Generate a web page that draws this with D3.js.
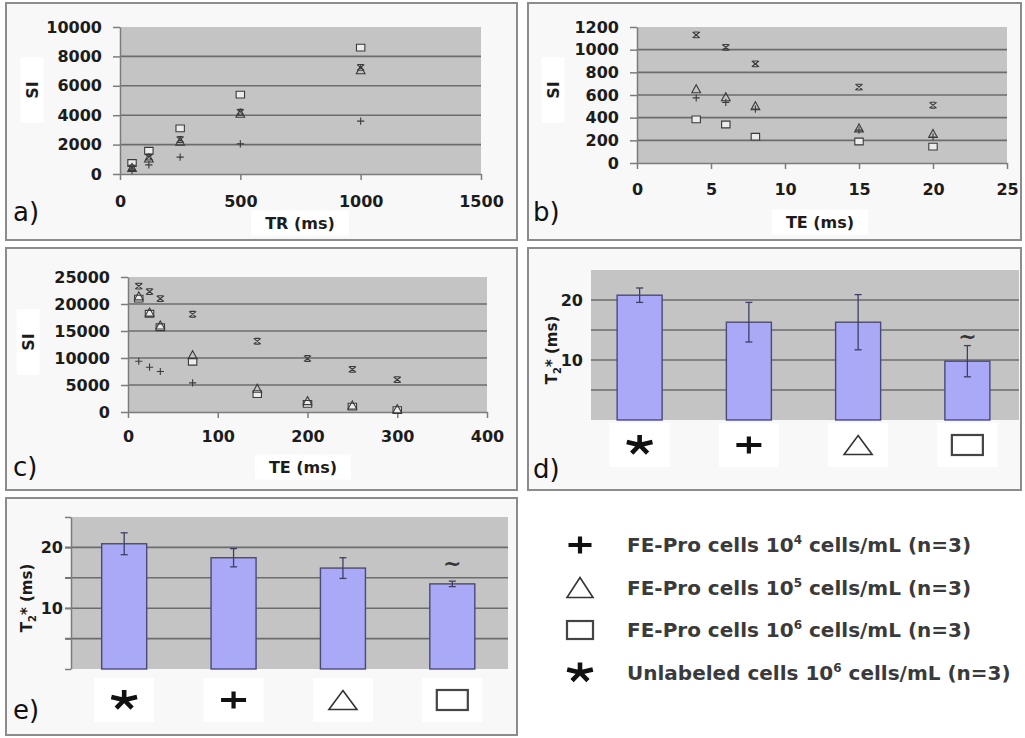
<!DOCTYPE html>
<html>
<head>
<meta charset="utf-8">
<script src="https://cdn.jsdelivr.net/npm/d3@7"></script>
<style>
  html, body { margin: 0; padding: 0; background: #fff; }
  svg text { font-family: "DejaVu Sans", sans-serif; }
</style>
</head>
<body>
<svg id="fig" width="1025" height="738"></svg>
<script>
// a) signal intensity vs TR
const trValues = [50, 120, 250, 500, 1000];
const trStar = [420, 1150, 2350, 4200, 7250];
const trPlus = [250, 620, 1150, 2050, 3600];
const trTriangle = [400, 1050, 2200, 4100, 7050];
const trSquare = [750, 1580, 3100, 5400, 8600];
const trTicksX = [0, 500, 1000, 1500];
const trTicksY = [0, 2000, 4000, 6000, 8000, 10000];

// b) signal intensity vs short TE
const teShort = [4, 6, 8, 15, 20];
const teShortStar = [1130, 1020, 875, 670, 510];
const teShortPlus = [575, 535, 475, 290, 230];
const teShortTriangle = [650, 580, 500, 305, 255];
const teShortSquare = [385, 340, 232, 190, 145];
const teShortTicksX = [0, 5, 10, 15, 20, 25];
const teShortTicksY = [0, 200, 400, 600, 800, 1000, 1200];

// c) signal intensity vs long TE
const teLong = [12, 24, 36, 72, 144, 200, 250, 300];
const teLongStar = [23300, 22300, 21000, 18100, 13100, 9900, 7900, 6000];
const teLongPlus = [9400, 8300, 7500, 5400];
const teLongTriangle = [21400, 18400, 16000, 10500, 4300, 2000, 1200, 500];
const teLongSquare = [21000, 18200, 15700, 9300, 3300, 1500, 1000, 350];
const teLongTicksX = [0, 100, 200, 300, 400];
const teLongTicksY = [0, 5000, 10000, 15000, 20000, 25000];

// d) and e) T2* per group
const groups = ["star", "plus", "triangle", "square"];
const t2Mean_d = [20.8, 16.3, 16.3, 9.8];
const t2Err_d = [1.2, 3.3, 4.6, 2.6];
const t2Mean_e = [20.6, 18.3, 16.6, 14.0];
const t2Err_e = [1.8, 1.5, 1.7, 0.45];
const t2Marked = ["square"];
const t2TicksY = [0, 5, 10, 15, 20, 25];
const t2Labels = [10, 20];

// legend
const legendKinds = ["plus", "triangle", "square", "star"];
const legendNames = ["FE-Pro cells", "FE-Pro cells", "FE-Pro cells", "Unlabeled cells"];
const legendExp = ["4", "5", "6", "6"];

const plotFill = "#c4c4c4";
const gridColor = "#6c6c6c";
const axisColor = "#7c7c7c";
const markColor = "#3a3a3a";
const textColor = "#1c1c1c";

const svg = d3.select("#fig");
svg.append("rect").attr("width", 1025).attr("height", 738).attr("fill", "#fff");

// panel frames
const frames = [
  { x0: 6, y0: 3, x1: 517, y1: 240, tag: "a)", tx: 13, ty: 221 },
  { x0: 528, y0: 3, x1: 1021, y1: 240, tag: "b)", tx: 533, ty: 221 },
  { x0: 6, y0: 248, x1: 517, y1: 490, tag: "c)", tx: 13, ty: 476 },
  { x0: 528, y0: 248, x1: 1021, y1: 490, tag: "d)", tx: 533, ty: 478 },
  { x0: 6, y0: 498, x1: 517, y1: 735, tag: "e)", tx: 13, ty: 719 }
];
frames.forEach(f => {
  svg.append("rect")
    .attr("x", f.x0).attr("y", f.y0)
    .attr("width", f.x1 - f.x0).attr("height", f.y1 - f.y0)
    .attr("fill", "#f8f8f8").attr("stroke", "#8c8c8c").attr("stroke-width", 2);
});

// white box behind a label (pads are in the text's own direction)
function labelBg(textSel, padAlong, padAcross) {
  const b = textSel.node().getBBox();
  const rect = document.createElementNS("http://www.w3.org/2000/svg", "rect");
  textSel.node().parentNode.insertBefore(rect, textSel.node());
  d3.select(rect)
    .attr("x", b.x - padAlong).attr("y", b.y - padAcross)
    .attr("width", b.width + 2 * padAlong).attr("height", b.height + 2 * padAcross)
    .attr("transform", textSel.attr("transform")).attr("fill", "#fff");
}

// small scatter markers
function markerPath(kind, s) {
  if (kind === "plus") return `M${-s},0H${s}M0,${-s}V${s}`;
  if (kind === "triangle") return `M0,${-s}L${s * 0.95},${s * 0.75}H${-s * 0.95}Z`;
  if (kind === "square") return `M${-s},${-s * 0.8}H${s}V${s * 0.8}H${-s}Z`;
  // star: x with serifs
  return `M${-s},${-s * 0.8}L${s},${s * 0.8}M${s},${-s * 0.8}L${-s},${s * 0.8}` +
    `M${-s * 0.7},${-s * 0.8}H${s * 0.7}M${-s * 0.7},${s * 0.8}H${s * 0.7}`;
}
const markerSize = { plus: 3.6, triangle: 4.6, square: 4.2, star: 3.6 };

// big symbols used under bars and in the legend
function bigSymbol(g, kind, cx, cy, w, h) {
  const s = g.append("g").attr("transform", `translate(${cx},${cy})`);
  if (kind === "plus") {
    s.append("path").attr("d", `M${-w / 2},0H${w / 2}M0,${-h / 2}V${h / 2}`)
      .attr("stroke", "#111").attr("stroke-width", 4.2);
  } else if (kind === "triangle") {
    s.append("path").attr("d", `M0,${-h / 2}L${w / 2},${h / 2}H${-w / 2}Z`)
      .attr("fill", "#fff").attr("stroke", "#333").attr("stroke-width", 1.6);
  } else if (kind === "square") {
    s.append("rect").attr("x", -w / 2).attr("y", -h / 2).attr("width", w).attr("height", h)
      .attr("fill", "#fff").attr("stroke", "#444").attr("stroke-width", 2.2);
  } else {
    const arms = [-90, -18, 54, 126, 198].map(a => {
      const r = a * Math.PI / 180;
      return `M0,0L${(w / 2) * Math.cos(r)},${(h / 1.7) * Math.sin(r)}`;
    }).join("");
    s.append("path").attr("d", arms).attr("stroke", "#111").attr("stroke-width", 4.6);
  }
}

function styleAxis(ax) {
  ax.attr("font-family", "DejaVu Sans").attr("font-size", 16).attr("font-weight", "bold");
  ax.select(".domain").attr("stroke", axisColor).attr("stroke-width", 1.5);
  ax.selectAll(".tick line").attr("stroke", axisColor).attr("stroke-width", 1.5);
  ax.selectAll(".tick text").attr("fill", textColor);
}

function scatterPanel(opt) {
  const g = svg.append("g");
  const x = d3.scaleLinear().domain(d3.extent(opt.ticksX)).range([opt.left, opt.right]);
  const y = d3.scaleLinear().domain(d3.extent(opt.ticksY)).range([opt.bottom, opt.top]);

  const yl = g.append("text")
    .attr("transform", `translate(${opt.yTitle[0]},${opt.yTitle[1]}) rotate(-90)`)
    .attr("text-anchor", "middle").attr("dy", "0.35em")
    .attr("font-size", 16).attr("font-weight", "bold").attr("fill", textColor)
    .text("SI");
  labelBg(yl, 24, 2);

  const xl = g.append("text")
    .attr("x", opt.xTitle[0]).attr("y", opt.xTitle[1])
    .attr("text-anchor", "middle").attr("dy", "0.35em")
    .attr("font-size", 16).attr("font-weight", "bold").attr("fill", textColor)
    .text(opt.xLabel);
  labelBg(xl, 14, 3);

  g.append("rect")
    .attr("x", x.range()[0]).attr("y", y.range()[1])
    .attr("width", x.range()[1] - x.range()[0]).attr("height", y.range()[0] - y.range()[1])
    .attr("fill", plotFill);

  g.selectAll(null).data(opt.ticksY.slice(1, -1)).join("line")
    .attr("x1", x.range()[0]).attr("x2", x.range()[1])
    .attr("y1", d => y(d)).attr("y2", d => y(d))
    .attr("stroke", gridColor).attr("stroke-width", 1.6);

  g.append("g").attr("transform", `translate(${opt.left},0)`)
    .call(d3.axisLeft(y).tickValues(opt.ticksY).tickSize(7).tickSizeOuter(0)
      .tickPadding(11).tickFormat(d3.format("d")))
    .call(styleAxis);

  g.append("g").attr("transform", `translate(0,${opt.bottom})`)
    .call(d3.axisBottom(x).tickValues(opt.ticksX).tickSize(6).tickSizeOuter(0)
      .tickPadding(opt.xPad).tickFormat(d3.format("d")))
    .call(styleAxis);

  opt.series.forEach(s => {
    g.selectAll(null).data(s.values.map((v, i) => [opt.xs[i], v])).join("path")
      .attr("transform", d => `translate(${x(d[0])},${y(d[1])})`)
      .attr("d", markerPath(s.kind, markerSize[s.kind]))
      .attr("fill", s.kind === "square" ? "#ececec" : "none")
      .attr("stroke", markColor).attr("stroke-width", 1.1);
  });
}

scatterPanel({
  left: 120, right: 481, top: 27, bottom: 174, xPad: 16,
  ticksX: trTicksX, ticksY: trTicksY, xs: trValues,
  series: [
    { kind: "plus", values: trPlus },
    { kind: "square", values: trSquare },
    { kind: "triangle", values: trTriangle },
    { kind: "star", values: trStar }
  ],
  yTitle: [32, 90], xTitle: [300, 223], xLabel: "TR (ms)"
});

scatterPanel({
  left: 637, right: 1007, top: 27, bottom: 163, xPad: 15,
  ticksX: teShortTicksX, ticksY: teShortTicksY, xs: teShort,
  series: [
    { kind: "plus", values: teShortPlus },
    { kind: "square", values: teShortSquare },
    { kind: "triangle", values: teShortTriangle },
    { kind: "star", values: teShortStar }
  ],
  yTitle: [553, 90], xTitle: [820, 222], xLabel: "TE (ms)"
});

scatterPanel({
  left: 128, right: 487, top: 277, bottom: 412, xPad: 13,
  ticksX: teLongTicksX, ticksY: teLongTicksY, xs: teLong,
  series: [
    { kind: "plus", values: teLongPlus },
    { kind: "square", values: teLongSquare },
    { kind: "triangle", values: teLongTriangle },
    { kind: "star", values: teLongStar }
  ],
  yTitle: [28, 342], xTitle: [303, 467], xLabel: "TE (ms)"
});

function barPanel(opt) {
  const g = svg.append("g");
  const x = d3.scaleBand().domain(groups).range(opt.band);
  const y = d3.scaleLinear().domain(d3.extent(t2TicksY)).range([opt.bottom, opt.top]);
  const cx = k => x(k) + x.bandwidth() / 2;
  const barW = 45;

  g.append("rect")
    .attr("x", opt.plotLeft).attr("y", y.range()[1])
    .attr("width", opt.plotRight - opt.plotLeft).attr("height", y.range()[0] - y.range()[1])
    .attr("fill", plotFill);

  g.selectAll(null).data(t2TicksY.slice(1, -1)).join("line")
    .attr("x1", opt.gridLeft).attr("x2", opt.plotRight)
    .attr("y1", d => y(d)).attr("y2", d => y(d))
    .attr("stroke", gridColor).attr("stroke-width", 1.6);

  const ax = g.append("g").attr("transform", `translate(${opt.plotLeft},0)`);
  if (opt.axis) {
    ax.call(d3.axisLeft(y).tickValues(t2TicksY).tickSize(6).tickSizeOuter(0).tickPadding(2)
      .tickFormat(d => t2Labels.includes(d) ? d : ""));
  } else {
    ax.call(d3.axisLeft(y).tickValues(t2Labels).tickSize(0).tickPadding(8));
    ax.select(".domain").remove();
  }
  styleAxis(ax);

  g.selectAll(null).data(groups).join("rect")
    .attr("x", k => cx(k) - barW / 2)
    .attr("y", (k, i) => y(opt.mean[i]))
    .attr("width", barW)
    .attr("height", (k, i) => y(0) - y(opt.mean[i]))
    .attr("fill", "#a9a9f7").attr("stroke", "#4a4a7a").attr("stroke-width", 1.4);

  const err = g.selectAll(null).data(groups).join("g").attr("stroke", "#3e3e66").attr("stroke-width", 1.3);
  err.append("line")
    .attr("x1", k => cx(k)).attr("x2", k => cx(k))
    .attr("y1", (k, i) => y(opt.mean[i] - opt.err[i]))
    .attr("y2", (k, i) => y(opt.mean[i] + opt.err[i]));
  [-1, 1].forEach(sgn => {
    err.append("line")
      .attr("x1", k => cx(k) - 3.5).attr("x2", k => cx(k) + 3.5)
      .attr("y1", (k, i) => y(opt.mean[i] + sgn * opt.err[i]))
      .attr("y2", (k, i) => y(opt.mean[i] + sgn * opt.err[i]));
  });

  g.selectAll(null).data(groups.filter(k => t2Marked.includes(k))).join("text")
    .attr("x", k => cx(k))
    .attr("y", k => { const i = groups.indexOf(k); return y(opt.mean[i] + opt.err[i]) - opt.tildeGap; })
    .attr("text-anchor", "middle").attr("dy", "0.35em")
    .attr("font-size", 22).attr("font-weight", "bold").attr("fill", "#333")
    .text("~");

  const sizes = { star: [27, 17], plus: [25, 17], triangle: [28, 19], square: [31, 20] };
  groups.forEach(k => {
    g.append("rect").attr("x", cx(k) - 30).attr("y", opt.symY - 22)
      .attr("width", 60).attr("height", 44).attr("fill", "#fff");
    bigSymbol(g, k, cx(k), opt.symY, sizes[k][0], sizes[k][1]);
  });

  const yl = g.append("text")
    .attr("transform", `translate(${opt.yTitle[0]},${opt.yTitle[1]}) rotate(-90)`)
    .attr("text-anchor", "middle").attr("dy", "0.35em")
    .attr("font-size", 15).attr("font-weight", "bold").attr("fill", textColor);
  yl.append("tspan").text("T");
  yl.append("tspan").attr("font-size", 10).attr("dy", 4).text("2");
  yl.append("tspan").attr("dy", -4).text("* (ms)");
}

barPanel({
  band: [585, 1022], plotLeft: 591, plotRight: 1019, gridLeft: 591,
  top: 270, bottom: 420, axis: false,
  mean: t2Mean_d, err: t2Err_d, tildeGap: 9, symY: 445, yTitle: [552, 350]
});

barPanel({
  band: [69.5, 507], plotLeft: 71, plotRight: 508, gridLeft: 65,
  top: 517, bottom: 669, axis: true,
  mean: t2Mean_e, err: t2Err_e, tildeGap: 18, symY: 700, yTitle: [27, 598]
});

// legend
const legendSizes = { plus: [23, 17], triangle: [26, 20], square: [26, 18], star: [27, 17] };
legendKinds.forEach((k, i) => {
  const yy = 545 + i * 42.5;
  bigSymbol(svg, k, 580, yy, legendSizes[k][0], legendSizes[k][1]);
  const t = svg.append("text")
    .attr("x", 627).attr("y", yy).attr("dy", "0.36em")
    .attr("font-size", 20).attr("font-weight", "bold").attr("fill", "#3a3a3a");
  t.append("tspan").text(legendNames[i] + " 10");
  t.append("tspan").attr("font-size", 12).attr("dy", -8).text(legendExp[i]);
  t.append("tspan").attr("dy", 8).text(" cells/mL (n=3)");
});

// panel tags
frames.forEach(f => {
  svg.append("text").attr("x", f.tx).attr("y", f.ty)
    .attr("font-family", "Liberation Sans").attr("font-size", 26).attr("fill", "#111")
    .text(f.tag);
});
</script>
</body>
</html>
